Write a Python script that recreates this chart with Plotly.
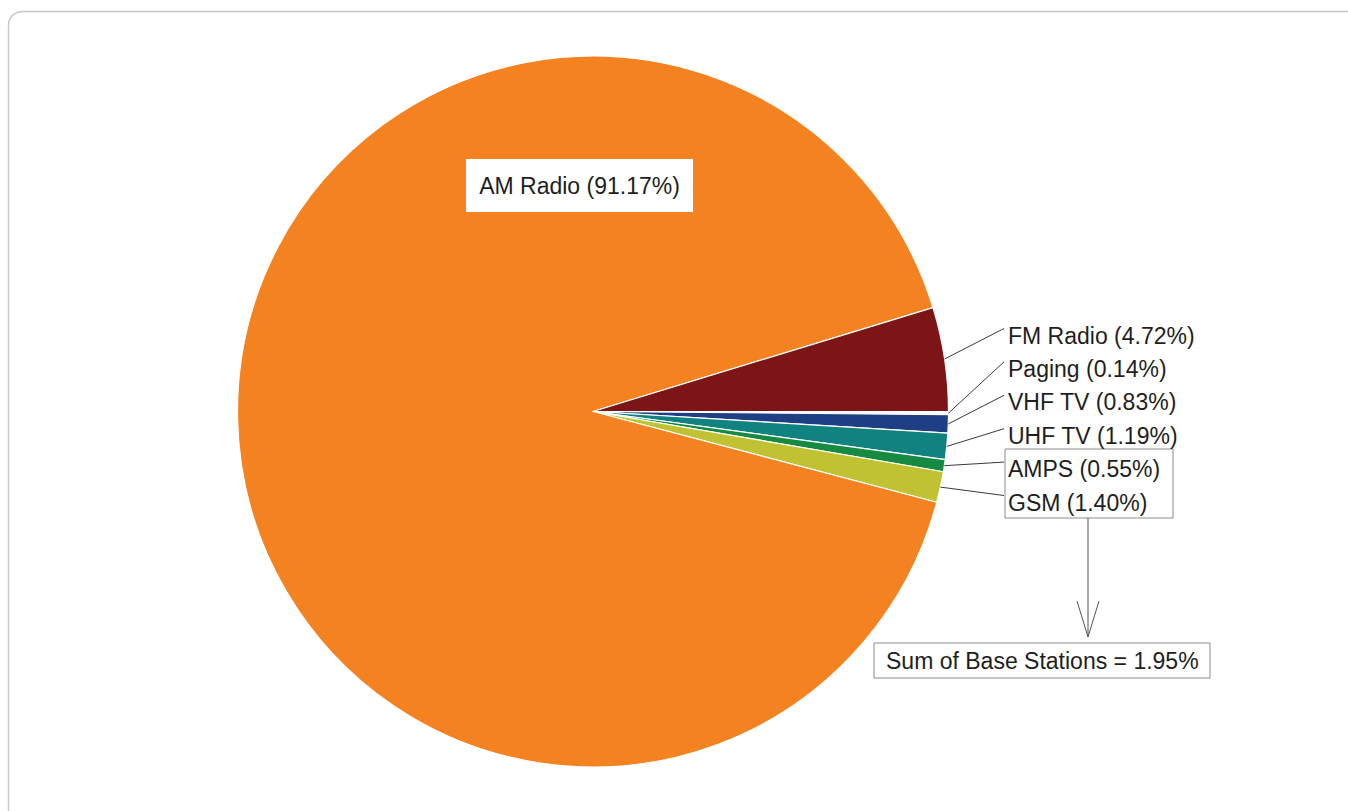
import math
import plotly.graph_objects as go

# ---- data ----
labels = ["Paging", "VHF TV", "UHF TV", "AMPS", "GSM", "AM Radio", "FM Radio"]
values = [0.14, 0.83, 1.19, 0.55, 1.40, 91.17, 4.72]
colors = ["#FFFFFF", "#1F3F84", "#108280", "#168A40", "#C0C232", "#F58220", "#7D1416"]
side_labels = ["FM Radio", "Paging", "VHF TV", "UHF TV", "AMPS", "GSM"]
base_station_labels = ["AMPS", "GSM"]
inside_label = "AM Radio"

# ---- layout geometry (pixels) ----
W, H = 1348, 811
cx, cy, R = 593.0, 411.5, 355.5
FONT = dict(family="Liberation Sans, Arial, sans-serif", size=23, color="#1e1e1e")


def px(x):
    return x / W


def py(y):
    return 1 - y / H


fig = go.Figure(
    go.Pie(
        labels=labels,
        values=values,
        sort=False,
        direction="clockwise",
        rotation=90,
        marker=dict(colors=colors, line=dict(color="white", width=1.2)),
        textinfo="none",
        hoverinfo="label+percent",
        domain=dict(x=[px(cx - R), px(cx + R)], y=[py(cy + R), py(cy - R)]),
    )
)

total = sum(values)
mid_angle = {}
cum = 0.0
for lab, v in zip(labels, values):
    mid_angle[lab] = math.radians((cum + v / 2) / total * 360.0)
    cum += v

shapes = []
annotations = []

# side labels with leader lines
label_x = 1008
label_y0, label_step = 335.5, 33.4
for i, lab in enumerate(side_labels):
    v = values[labels.index(lab)]
    ly = label_y0 + i * label_step
    a = mid_angle[lab]
    sx, sy = cx + R * math.cos(a), cy + R * math.sin(a)
    shapes.append(dict(type="line", xref="paper", yref="paper",
                       x0=px(sx), y0=py(sy), x1=px(1004), y1=py(ly - 7),
                       line=dict(color="#3a3a3a", width=1)))
    annotations.append(dict(x=px(label_x - 2), y=py(ly), xref="paper", yref="paper",
                            text=f"{lab} ({v:.2f}%)", showarrow=False,
                            xanchor="left", yanchor="middle", font=FONT))

# box around base stations
shapes.append(dict(type="rect", xref="paper", yref="paper",
                   x0=px(1005), x1=px(1173), y0=py(518), y1=py(449),
                   line=dict(color="#8a8a8a", width=1)))
# arrow down
shapes.append(dict(type="line", xref="paper", yref="paper",
                   x0=px(1088), x1=px(1088), y0=py(518), y1=py(637),
                   line=dict(color="#555555", width=1)))
shapes.append(dict(type="path", xref="paper", yref="paper",
                   path=f"M {px(1077)} {py(601)} L {px(1088)} {py(637)} L {px(1099)} {py(601)}",
                   line=dict(color="#555555", width=1)))
# sum box
base_sum = sum(values[labels.index(l)] for l in base_station_labels)
shapes.append(dict(type="rect", xref="paper", yref="paper",
                   x0=px(874), x1=px(1210), y0=py(678), y1=py(643),
                   line=dict(color="#8a8a8a", width=1)))
annotations.append(dict(x=px(1042), y=py(661), xref="paper", yref="paper",
                        text=f"Sum of Base Stations = {base_sum:.2f}%", showarrow=False,
                        xanchor="center", yanchor="middle", font=FONT))

# AM Radio label box
am_v = values[labels.index(inside_label)]
annotations.append(dict(x=px(579.5), y=py(185.5), xref="paper", yref="paper",
                        text=f"{inside_label} ({am_v:.2f}%)", showarrow=False,
                        xanchor="center", yanchor="middle", font=FONT,
                        bgcolor="white", width=225, height=51, borderpad=0,
                        bordercolor="white", borderwidth=1))

# outer rounded frame
shapes.append(dict(type="path", xref="paper", yref="paper",
                   path=(f"M {px(8.5)} {py(830)} L {px(8.5)} {py(27)} "
                         f"Q {px(8.5)} {py(11.5)} {px(24)} {py(11.5)} L {px(1360)} {py(11.5)}"),
                   line=dict(color="#c8c8c8", width=1.5)))

fig.update_layout(
    width=W, height=H,
    margin=dict(l=0, r=0, t=0, b=0),
    paper_bgcolor="white", plot_bgcolor="white",
    showlegend=False,
    shapes=shapes,
    annotations=annotations,
)

fig.write_html("out.html", config={"displayModeBar": False},
               post_script="document.body.style.margin='0';document.body.style.overflow='hidden';")
